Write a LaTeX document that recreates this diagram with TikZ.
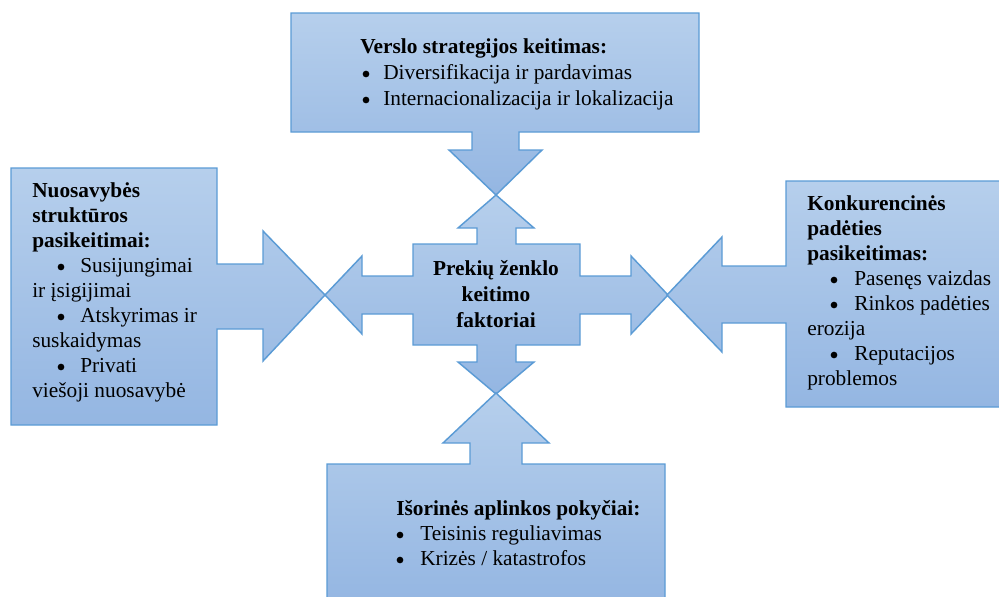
\documentclass[tikz,border=0pt]{standalone}
\usepackage{fontspec}
\setmainfont{Liberation Serif}
\definecolor{bordc}{RGB}{91,155,213}
\definecolor{topc}{RGB}{182,207,236}
\definecolor{botc}{RGB}{148,182,226}
\tikzset{
  shapefill/.style={draw=bordc, line width=1.1pt, line join=miter, top color=topc, bottom color=botc},
  txt/.style={anchor=base west, inner sep=0pt, font=\fontsize{16}{19}\selectfont},
  hd/.style={txt, font=\fontsize{16}{19}\selectfont\bfseries},
  dot/.style={circle, fill=black, draw=none, inner sep=0pt, minimum size=5pt},
  ctr/.style={anchor=base, inner sep=0pt, font=\fontsize{16}{19}\selectfont\bfseries}
}
\begin{document}
\begin{tikzpicture}[x=0.75pt,y=-0.75pt]
\useasboundingbox (0,0) rectangle (999,596);
\clip (0,0) rectangle (999,596);
% central quad arrow
\path[shapefill] (413,244) -- (477,244) -- (477,228) -- (458,228) -- (496,195) -- (534,228) -- (516,228) -- (516,244) -- (580,244) -- (580,276) -- (631,276) -- (631,256) -- (668,295) -- (631,334) -- (631,314) -- (580,314) -- (580,345) -- (516,345) -- (516,362) -- (534,362) -- (496,394) -- (458,362) -- (477,362) -- (477,345) -- (413,345) -- (413,314) -- (362,314) -- (362,334) -- (325,295) -- (362,256) -- (362,276) -- (413,276) -- cycle;
% top callout
\path[shapefill] (291,13) -- (699,13) -- (699,132) -- (519,132) -- (519,150) -- (542,150) -- (496,195) -- (449,150) -- (472,150) -- (472,132) -- (291,132) -- cycle;
% left callout
\path[shapefill] (11,168) -- (217,168) -- (217,264) -- (263,264) -- (263,231) -- (325,295) -- (263,361) -- (263,329) -- (217,329) -- (217,425) -- (11,425) -- cycle;
% right callout
\path[shapefill] (786,181) -- (1008,181) -- (1008,407) -- (786,407) -- (786,323) -- (722,323) -- (722,352) -- (667,295) -- (722,237) -- (722,266) -- (786,266) -- cycle;
% bottom callout
\path[shapefill] (327,464) -- (470,464) -- (470,443) -- (443,443) -- (496,393) -- (549,443) -- (522,443) -- (522,464) -- (665,464) -- (665,605) -- (327,605) -- cycle;

% center text
\node[ctr] (c1) at (496,275) {Prekių ženklo};
\node[ctr] (c2) at (496,301) {keitimo};
\node[ctr] (c3) at (496,327) {faktoriai};

% top text
\node[hd] (t0) at (360,53) {Verslo strategijos keitimas:};
\node[dot] (tb1) at (366,74) {};
\node[txt] (t1) at (383,79) {Diversifikacija ir pardavimas};
\node[dot] (tb2) at (366,100) {};
\node[txt] (t2) at (383,105) {Internacionalizacija ir lokalizacija};

% left text
\node[hd] (l0) at (32,197) {Nuosavybės};
\node[hd] (l1) at (32,222) {struktūros};
\node[hd] (l2) at (32,247) {pasikeitimai:};
\node[dot] (lb1) at (61,267) {};
\node[txt] (l3) at (80,272) {Susijungimai};
\node[txt] (l4) at (32,297) {ir įsigijimai};
\node[dot] (lb2) at (61,317) {};
\node[txt] (l5) at (80,322) {Atskyrimas ir};
\node[txt] (l6) at (32,347) {suskaidymas};
\node[dot] (lb3) at (61,367) {};
\node[txt] (l7) at (80,372) {Privati};
\node[txt] (l8) at (32,397) {viešoji nuosavybė};

% right text
\node[hd] (r0) at (807,210) {Konkurencinės};
\node[hd] (r1) at (807,235) {padėties};
\node[hd] (r2) at (807,260) {pasikeitimas:};
\node[dot] (rb1) at (834,280) {};
\node[txt] (r3) at (854,285) {Pasenęs vaizdas};
\node[dot] (rb2) at (834,305) {};
\node[txt] (r4) at (854,310) {Rinkos padėties};
\node[txt] (r5) at (807,335) {erozija};
\node[dot] (rb3) at (834,355) {};
\node[txt] (r6) at (854,360) {Reputacijos};
\node[txt] (r7) at (807,385) {problemos};

% bottom text
\node[hd] (b0) at (396,515) {Išorinės aplinkos pokyčiai:};
\node[dot] (bb1) at (400,535) {};
\node[txt] (b1) at (420,540) {Teisinis reguliavimas};
\node[dot] (bb2) at (400,560) {};
\node[txt] (b2) at (420,565) {Krizės / katastrofos};
\end{tikzpicture}
\end{document}
